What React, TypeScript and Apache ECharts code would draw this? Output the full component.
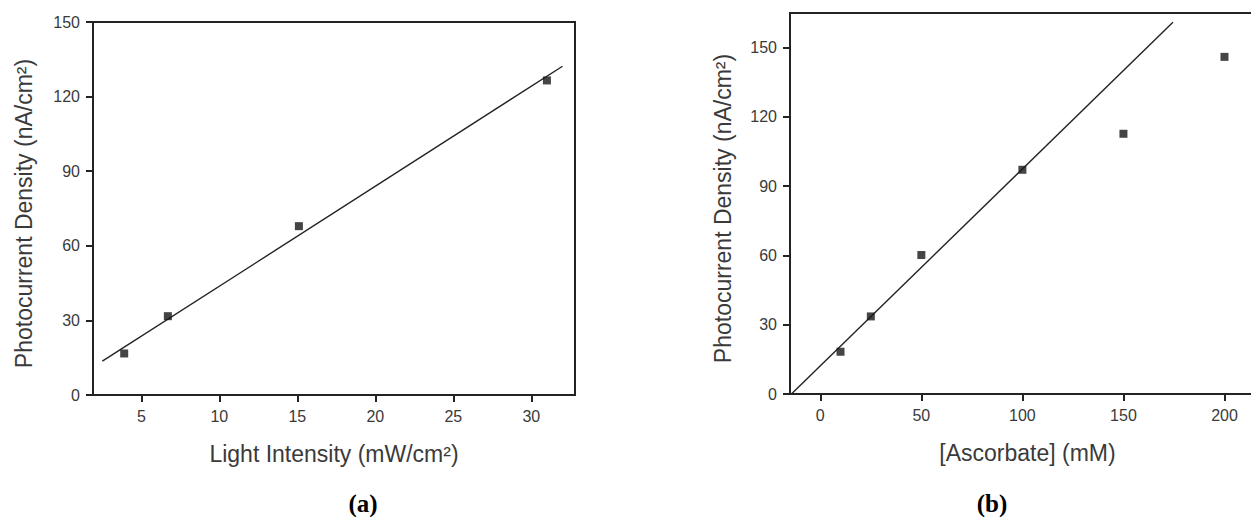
import React, { useEffect, useRef } from "react";
import * as echarts from "echarts";

// Panel (a): photocurrent vs light intensity
const intensity = [3.9, 6.7, 15.1, 31.0];
const densityA = [16.7, 31.7, 67.9, 126.5];
const fitAX = [2.5, 32.0];
const fitAY = [13.6, 132.2];

// Panel (b): photocurrent vs ascorbate concentration
const ascorbate = [10, 25, 50, 100, 150, 200];
const densityB = [18.3, 33.6, 60.2, 97.1, 112.7, 146.0];
const fitBX = [-14.3, 174.5];
const fitBY = [0, 161.0];

// Tick positions
const xTicksA = [5, 10, 15, 20, 25, 30];
const xTicksB = [0, 50, 100, 150, 200];
const yTicks = [0, 30, 60, 90, 120, 150];

const SANS = "'Liberation Sans', Arial, Helvetica, sans-serif";
const AXIS_COLOR = "#232323";
const TEXT_COLOR = "#3a3a3a";

function pairs(xs: number[], ys: number[]) {
  return xs.map((x, i) => [x, ys[i]]);
}

function valueAxis(opts: any) {
  return {
    type: "value",
    splitLine: { show: false },
    axisLine: { show: true, onZero: false, lineStyle: { color: AXIS_COLOR, width: 2 } },
    axisTick: {
      show: true,
      inside: false,
      length: 7,
      lineStyle: { color: AXIS_COLOR, width: 2 },
      customValues: opts.ticks,
    },
    axisLabel: {
      color: TEXT_COLOR,
      fontFamily: SANS,
      fontSize: 16,
      margin: 13,
      customValues: opts.ticks,
    },
    nameLocation: "middle",
    nameTextStyle: {
      color: TEXT_COLOR,
      fontFamily: SANS,
      fontSize: 23,
      padding: opts.namePadding || 0,
    },
    ...opts.rest,
  };
}

export default function App() {
  const ref = useRef<HTMLDivElement>(null);

  useEffect(() => {
    if (!ref.current) return;
    const chart = echarts.init(ref.current, null, { renderer: "svg" });

    // The right-hand frame runs past the visible edge, so the canvas is wider than the view.
    const grids = [
      { left: 93, top: 22, width: 482, height: 373 },
      { left: 790, top: 13, width: 485, height: 381 },
    ].map((g) => ({
      ...g,
      show: true,
      borderColor: AXIS_COLOR,
      borderWidth: 2,
      backgroundColor: "transparent",
      containLabel: false,
    }));

    chart.setOption({
      animation: false,
      backgroundColor: "#ffffff",
      grid: grids,
      xAxis: [
        valueAxis({
          ticks: xTicksA,
          rest: {
            gridIndex: 0,
            min: 1.9,
            max: 32.8,
            name: "Light Intensity (mW/cm²)",
            nameGap: 47,
          },
        }),
        valueAxis({
          ticks: xTicksB,
          namePadding: [0, 10, 0, 0],
          rest: {
            gridIndex: 1,
            min: -15,
            max: 225,
            name: "[Ascorbate] (mM)",
            nameGap: 47,
          },
        }),
      ],
      yAxis: [
        valueAxis({
          ticks: yTicks,
          namePadding: [0, 10, 0, 0],
          rest: {
            gridIndex: 0,
            min: 0,
            max: 150,
            name: "Photocurrent Density (nA/cm²)",
            nameGap: 58,
          },
        }),
        valueAxis({
          ticks: yTicks,
          namePadding: [0, 10, 0, 0],
          rest: {
            gridIndex: 1,
            min: 0,
            max: 165,
            name: "Photocurrent Density (nA/cm²)",
            nameGap: 56,
          },
        }),
      ],
      series: [
        {
          type: "line",
          xAxisIndex: 0,
          yAxisIndex: 0,
          data: pairs(fitAX, fitAY),
          showSymbol: false,
          lineStyle: { color: "#222", width: 1.4 },
          z: 2,
        },
        {
          type: "scatter",
          xAxisIndex: 0,
          yAxisIndex: 0,
          data: pairs(intensity, densityA),
          symbol: "rect",
          symbolSize: 8,
          itemStyle: { color: "#161616" },
          z: 3,
        },
        {
          type: "line",
          xAxisIndex: 1,
          yAxisIndex: 1,
          data: pairs(fitBX, fitBY),
          showSymbol: false,
          lineStyle: { color: "#222", width: 1.4 },
          z: 2,
        },
        {
          type: "scatter",
          xAxisIndex: 1,
          yAxisIndex: 1,
          data: pairs(ascorbate, densityB),
          symbol: "rect",
          symbolSize: 8,
          itemStyle: { color: "#161616" },
          z: 3,
        },
      ],
      graphic: [
        {
          type: "text",
          x: 363,
          y: 503,
          style: {
            text: "(a)",
            fill: "#000",
            font: "bold 25px 'Liberation Serif', 'Times New Roman', serif",
            textAlign: "center",
            textVerticalAlign: "middle",
          },
        },
        {
          type: "text",
          x: 992,
          y: 503,
          style: {
            text: "(b)",
            fill: "#000",
            font: "bold 25px 'Liberation Serif', 'Times New Roman', serif",
            textAlign: "center",
            textVerticalAlign: "middle",
          },
        },
      ],
    });

    return () => chart.dispose();
  }, []);

  return (
    <div
      style={{
        position: "absolute",
        left: 0,
        top: 0,
        width: 1251,
        height: 517,
        overflow: "hidden",
        background: "#fff",
      }}
    >
      <div ref={ref} style={{ width: 1300, height: 517 }} />
    </div>
  );
}
